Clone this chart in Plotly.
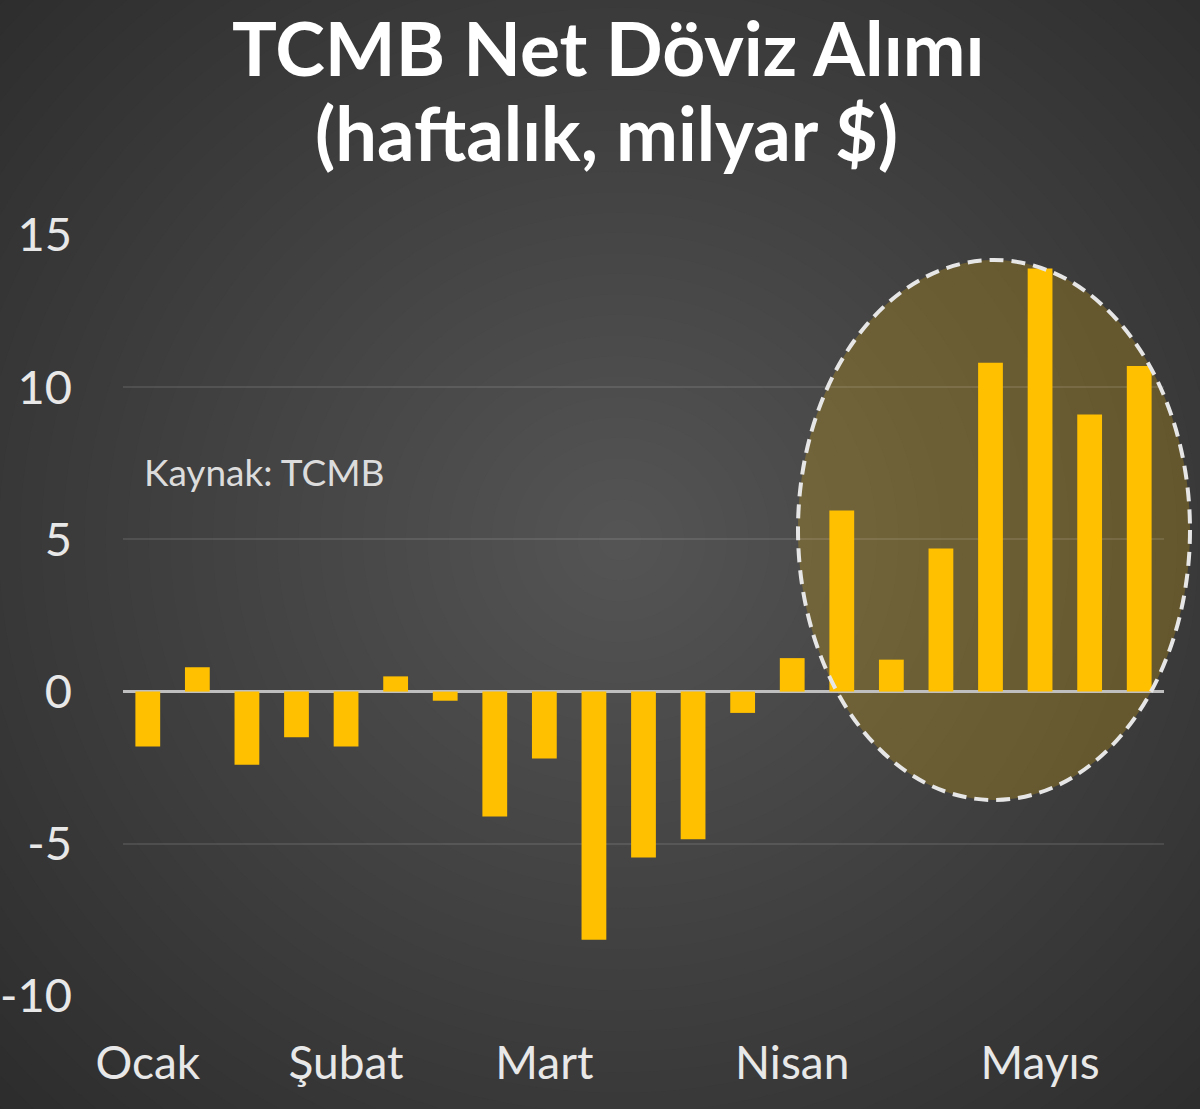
import plotly.graph_objects as go

# haftalık TCMB net döviz alımı (milyar $), Ocak - Mayıs
weeks = list(range(1, 22))
net_purchase = [-1.8, 0.8, -2.4, -1.5, -1.8, 0.5, -0.3, -4.1, -2.2, -8.15, -5.45,
                -4.85, -0.7, 1.1, 5.95, 1.05, 4.7, 10.8, 13.9, 9.1, 10.7]
month_weeks = [1, 5, 9, 14, 19]
month_names = ["Ocak", "Şubat", "Mart", "Nisan", "Mayıs"]
y_ticks = [-10, -5, 0, 5, 10, 15]
y_labels = ["-10", "-5", "0", "5", "10", "15"]

W, H = 1200, 1109
L, R, T, B = 123, 36, 235, 113
pw, ph = W - L - R, H - T - B


def px(x):
    return (x - L) / pw


def py(y):
    return (H - B - y) / ph


shapes = []
# radial background gradient: opaque rings, lighter toward the centre
n = 42
cx, cy = 620, 540
for i in range(n):
    f = 1 - i / n
    rx, ry = 900 * f, 860 * f
    v = int(round(85 - 42 * f))
    shapes.append(dict(type="circle", xref="paper", yref="paper",
                       x0=px(cx - rx), x1=px(cx + rx), y0=py(cy + ry), y1=py(cy - ry),
                       fillcolor=f"rgb({v},{v},{v})", line_width=0, layer="below"))

# highlight ellipse
shapes.append(dict(type="circle", xref="paper", yref="paper",
                   x0=px(798), x1=px(1190), y0=py(800), y1=py(260),
                   fillcolor="rgba(255,192,0,0.22)", line_width=0, layer="between"))
shapes.append(dict(type="circle", xref="paper", yref="paper",
                   x0=px(798), x1=px(1190), y0=py(800), y1=py(260),
                   line=dict(color="#e6e6e6", width=4, dash="14px,8px"), layer="above"))

fig = go.Figure(go.Bar(x=weeks, y=net_purchase, marker_color="#FFC000",
                       marker_line_width=0))

fig.update_layout(
    width=W, height=H, autosize=False,
    margin=dict(l=L, r=R, t=T, b=B),
    paper_bgcolor="#292929", plot_bgcolor="rgba(0,0,0,0)",
    font=dict(family="Lato", color="#e8e8e8"),
    bargap=0.5, showlegend=False,
    shapes=shapes,
    annotations=[
        dict(text="<b>TCMB Net Döviz Alımı</b>", xref="paper", yref="paper",
             x=px(608), y=py(47), xanchor="center", yanchor="middle",
             showarrow=False, font=dict(size=75, color="white")),
        dict(text="<b>(haftalık, milyar $)</b>", xref="paper", yref="paper",
             x=px(606), y=py(133), xanchor="center", yanchor="middle",
             showarrow=False, font=dict(size=74, color="white")),
        dict(text="Kaynak: TCMB", xref="paper", yref="paper",
             x=px(142), y=py(471), xanchor="left", yanchor="middle",
             showarrow=False, font=dict(size=37, color="#dcdcdc")),
    ],
)
fig.update_xaxes(range=[0.5, 21.5], tickvals=month_weeks, ticktext=month_names,
                 showgrid=False, zeroline=False, showline=False, ticks="",
                 automargin=False,
                 ticklabelstandoff=36, tickfont=dict(size=46, color="#e8e8e8"))
fig.update_yaxes(range=[-10, 15], tickvals=y_ticks, ticktext=y_labels, showgrid=True,
                 gridcolor="rgba(255,255,255,0.1)", gridwidth=2,
                 zeroline=True, zerolinecolor="#bfbfbf", zerolinewidth=3,
                 showline=False, ticks="", ticklabelstandoff=50, automargin=False,
                 tickfont=dict(size=47, color="#e8e8e8"))

fig.write_html("out.html", config={"displayModeBar": False},
               post_script="document.body.style.margin='0';")
